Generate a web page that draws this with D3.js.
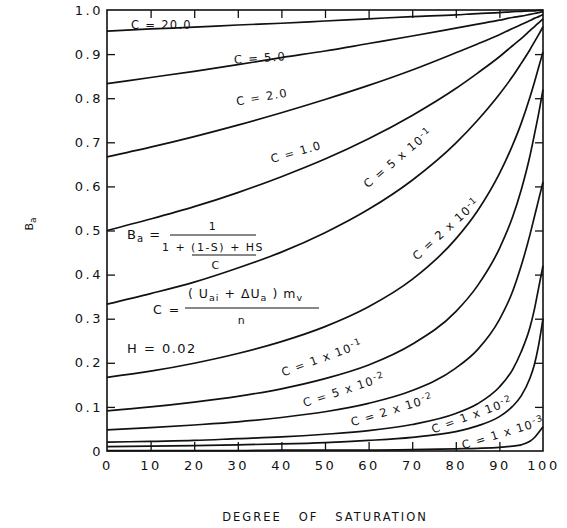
<!DOCTYPE html>
<html><head><meta charset="utf-8">
<script src="https://cdn.jsdelivr.net/npm/d3@7"></script>
<style>
body{margin:0;background:#fff;}
text{font-family:"DejaVu Sans",sans-serif;fill:#111;}
</style></head>
<body><svg id="chart" width="567" height="528"></svg>
<script>
// ---- data ----
const saturation = [0,10,20,30,40,50,60,70,80,85,90,93,95,97,98,99,100];
const xTicks = [0,10,20,30,40,50,60,70,80,90,100];
const yTicks = [0,0.1,0.2,0.3,0.4,0.5,0.6,0.7,0.8,0.9,1.0];
const c20   = [0.952,0.957,0.961,0.966,0.970,0.975,0.980,0.985,0.989,0.992,0.994,0.996,0.997,0.998,0.998,0.999,0.999];
const c5    = [0.833,0.847,0.861,0.876,0.892,0.907,0.924,0.941,0.959,0.968,0.977,0.983,0.986,0.990,0.992,0.994,0.996];
const c2    = [0.667,0.689,0.713,0.739,0.767,0.797,0.829,0.864,0.903,0.923,0.944,0.958,0.967,0.976,0.981,0.985,0.990];
const c1    = [0.500,0.526,0.554,0.586,0.622,0.662,0.708,0.761,0.822,0.857,0.894,0.919,0.935,0.953,0.962,0.971,0.980];
const c05   = [0.333,0.357,0.383,0.415,0.451,0.495,0.548,0.614,0.698,0.750,0.809,0.849,0.879,0.910,0.927,0.944,0.962];
const c02   = [0.167,0.181,0.199,0.221,0.248,0.282,0.327,0.389,0.481,0.545,0.629,0.693,0.743,0.802,0.835,0.870,0.905];
const c01   = [0.091,0.100,0.111,0.124,0.141,0.164,0.195,0.242,0.316,0.375,0.459,0.530,0.592,0.669,0.716,0.765,0.820];
const c005  = [0.048,0.053,0.059,0.066,0.076,0.089,0.108,0.137,0.188,0.230,0.298,0.361,0.420,0.490,0.530,0.570,0.610];
const c002  = [0.020,0.022,0.024,0.028,0.032,0.038,0.046,0.060,0.085,0.107,0.145,0.184,0.225,0.280,0.320,0.370,0.420];
const c001  = [0.010,0.011,0.012,0.014,0.016,0.019,0.024,0.031,0.044,0.057,0.078,0.101,0.125,0.165,0.195,0.240,0.300];
const c0001 = [0.001,0.001,0.001,0.001,0.002,0.002,0.002,0.003,0.005,0.006,0.008,0.011,0.014,0.022,0.030,0.042,0.055];
const seriesList = [c20,c5,c2,c1,c05,c02,c01,c005,c002,c001,c0001];
// curve labels: [main text, superscript]
const curveLabels = [["C = 20.0",""],["C = 5.0",""],["C = 2.0",""],["C = 1.0",""],
  ["C = 5 x 10","-1"],["C = 2 x 10","-1"],["C = 1 x 10","-1"],["C = 5 x 10","-2"],
  ["C = 2 x 10","-2"],["C = 1 x 10","-2"],["C = 1 x 10","-3"]];

// ---- layout ----
const svg = d3.select("#chart");
const L=107, R=543, T=10, B=451;
const x = d3.scaleLinear().domain([0,100]).range([L,R]);
const y = d3.scaleLinear().domain([0,1]).range([B,T]);

// axes (ticks inside)
const fmtY = d => d===0 ? "0" : d.toFixed(1);
const gx = svg.append("g").attr("transform",`translate(0,${B})`)
  .call(d3.axisBottom(x).tickValues(xTicks).tickSize(-9).tickPadding(10).tickFormat(d3.format("d")));
const gxt = svg.append("g").attr("transform",`translate(0,${T})`)
  .call(d3.axisTop(x).tickValues(xTicks.slice(1,-1)).tickSize(-8).tickFormat(""));
const gy = svg.append("g").attr("transform",`translate(${L},0)`)
  .call(d3.axisLeft(y).tickValues(yTicks).tickSize(-8).tickPadding(4).tickFormat(fmtY));
const gyr = svg.append("g").attr("transform",`translate(${R},0)`)
  .call(d3.axisRight(y).tickValues(yTicks.slice(1,-1)).tickSize(-8).tickFormat(""));
[gx,gxt,gy,gyr].forEach(g=>{
  g.select(".domain").remove();
  g.selectAll(".tick line").attr("stroke","#111").attr("stroke-width",1.3);
  g.selectAll("text").style("font-size","13px").style("letter-spacing","2.5px")
   .style("font-family","DejaVu Sans").attr("fill","#111");
});
gy.selectAll(".tick").filter(d=>d===0||d===1).select("line").remove();
gx.selectAll(".tick").filter(d=>d===0||d===100).select("line").remove();

// frame
svg.append("rect").attr("x",L).attr("y",T).attr("width",R-L).attr("height",B-T)
  .attr("fill","none").attr("stroke","#111").attr("stroke-width",1.6);

// curves
const line = d3.line().x((d,i)=>x(saturation[i])).y(d=>y(d)).curve(d3.curveMonotoneX);
svg.append("g").selectAll("path").data(seriesList).join("path")
  .attr("d",line).attr("fill","none").attr("stroke","#111").attr("stroke-width",1.7);

// curve labels (positions / rotation)
const labelPos = [[131,25,0,"start"],[260,58,-4,"middle"],[262,97,-10,"middle"],[296,152,-16,"middle"],
  [398,158,-40,"middle"],[446,229,-42,"middle"],[322,358,-20,"middle"],[344,390,-18,"middle"],
  [392,410,-17,"middle"],[472,415,-20,"middle"],[503,433,-17,"middle"]];
curveLabels.forEach((lab,i)=>{
  const p = labelPos[i];
  const t = svg.append("text").attr("transform",`translate(${p[0]},${p[1]}) rotate(${p[2]})`)
    .attr("text-anchor",p[3]).attr("dy","0.35em")
    .style("font-size","11.5px").style("letter-spacing","1.3px");
  t.append("tspan").text(lab[0]);
  if(lab[1]) t.append("tspan").attr("dy","-0.45em").style("font-size","9px").text(lab[1]);
});

// formula annotations
const note = (tx,ty,str,size,anchor)=>svg.append("text").attr("x",tx).attr("y",ty)
  .attr("text-anchor",anchor||"start").style("font-size",(size||12)+"px").style("letter-spacing","1.5px").text(str);
// B_a = 1 / (1 + ((1-S)+HS)/C)
const ba = svg.append("text").attr("x",127).attr("y",239).style("font-size","13px").style("letter-spacing","1px");
ba.append("tspan").text("B");
ba.append("tspan").attr("dy","3").style("font-size","10px").text("a");
ba.append("tspan").attr("dy","-3").text(" =");
note(213,230,"1",11,"middle");
svg.append("line").attr("x1",170).attr("x2",256).attr("y1",235).attr("y2",235).attr("stroke","#111").attr("stroke-width",1.2);
note(213,251,"1 + (1-S) + HS",11,"middle");
svg.append("line").attr("x1",192).attr("x2",256).attr("y1",255).attr("y2",255).attr("stroke","#111").attr("stroke-width",1.2);
note(216,269,"C",11,"middle");
// C = (U_ai + ΔU_a) m_v / n
note(153,314,"C  =",12.5);
const num = svg.append("text").attr("x",188).attr("y",298).style("font-size","12.5px").style("letter-spacing","1px");
num.append("tspan").text("( U");
num.append("tspan").attr("dy","3").style("font-size","9.5px").text("ai");
num.append("tspan").attr("dy","-3").text(" + \u0394U");
num.append("tspan").attr("dy","3").style("font-size","9.5px").text("a");
num.append("tspan").attr("dy","-3").text(" )  m");
num.append("tspan").attr("dy","3").style("font-size","9.5px").text("v");
svg.append("line").attr("x1",185).attr("x2",319).attr("y1",308).attr("y2",308).attr("stroke","#111").attr("stroke-width",1.2);
note(242,324,"n",11,"middle");
note(127,353,"H = 0.02",13);

// axis titles
svg.append("text").attr("x",325).attr("y",521).attr("text-anchor","middle")
  .style("font-size","11.5px").style("letter-spacing","2px").style("white-space","pre")
  .text("DEGREE   OF   SATURATION");
const yt = svg.append("text").attr("transform","translate(33,224) rotate(-90)").attr("text-anchor","middle")
  .style("font-size","11px");
yt.append("tspan").text("B");
yt.append("tspan").attr("dy","3").style("font-size","9px").text("a");
</script></body></html>
